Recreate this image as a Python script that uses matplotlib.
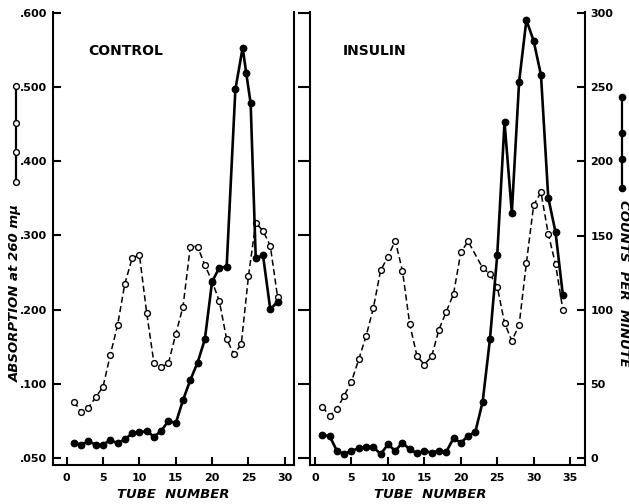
import matplotlib
matplotlib.use("Agg")
import matplotlib.pyplot as plt  # noqa: E402
from matplotlib.lines import Line2D  # noqa: E402

# absorption axis: tick positions and the labels printed on them (lowest tick reads .050)
abs_ticks = [0.0, 0.1, 0.2, 0.3, 0.4, 0.5, 0.6]
abs_labels = [".050", ".100", ".200", ".300", ".400", ".500", ".600"]
cpm_ticks = [0, 50, 100, 150, 200, 250, 300]

# CONTROL panel
ctl_abs_tube = list(range(1, 30))
ctl_abs = [0.076, 0.062, 0.068, 0.082, 0.096, 0.139, 0.179, 0.235, 0.269, 0.274,
           0.196, 0.128, 0.122, 0.128, 0.167, 0.204, 0.285, 0.285, 0.260, 0.238,
           0.211, 0.160, 0.140, 0.153, 0.245, 0.317, 0.306, 0.286, 0.217]
ctl_cpm_tube = list(range(1, 23)) + [23.2, 24.2, 24.7, 25.3, 26, 27, 28, 29]
ctl_cpm = [10.3, 9.0, 11.2, 9.0, 9.0, 12.1, 9.9, 12.6, 16.6, 17.3,
           18.2, 14.4, 18.2, 25.2, 23.4, 39.1, 52.6, 64.3, 80.0, 119.0,
           128.3, 129.0, 248.6, 276.6, 259.3, 239.1, 134.6, 136.6, 100.2, 105.4]

# INSULIN panel
ins_abs_tube = list(range(1, 22)) + list(range(23, 35))
ins_abs = [0.069, 0.057, 0.066, 0.084, 0.103, 0.133, 0.164, 0.202, 0.253, 0.271,
           0.293, 0.252, 0.180, 0.137, 0.126, 0.137, 0.173, 0.197, 0.221, 0.277,
           0.292, 0.256, 0.248, 0.231, 0.182, 0.158, 0.179, 0.263, 0.341, 0.358,
           0.302, 0.261, 0.200]
ins_cpm_tube = list(range(1, 35))
ins_cpm = [15.5, 14.8, 4.9, 2.7, 4.9, 6.5, 7.6, 7.6, 2.5, 9.2,
           4.9, 10.3, 5.8, 3.1, 4.9, 3.6, 4.9, 4.2, 13.3, 10.3,
           14.8, 17.7, 38.0, 80.2, 136.9, 226.3, 165.4, 253.7, 295.3, 281.1,
           258.2, 175.5, 152.2, 109.9]

W, H = 629, 504
LW_SPINE = 1.5
TXT = dict(fontweight="bold", color="black")


def px(x, y):
    return x / W, 1 - y / H


def style_open(ax, x, y):
    ax.plot(x, y, color="black", lw=1.1, ls=(0, (4, 2.2)), marker="o", ms=4.2,
            mfc="white", mec="black", mew=1.0, zorder=3)


def style_filled(ax, x, y):
    ax.plot(x, y, color="black", lw=1.9, marker="o", ms=4.6, mfc="black",
            mec="black", zorder=4)


fig = plt.figure(figsize=(W / 100, H / 100), dpi=100)
bottom, height = 39 / H, (465 - 12) / H
abs_lim = (-0.0094, 0.601)
cpm_lim = (-4.7, 300.7)

# ---- left panel (CONTROL)
axL = fig.add_axes([53 / W, bottom, (294 - 53) / W, height])
axLc = axL.twinx()
axL.set_xlim(-1.88, 31.26)
axL.set_ylim(*abs_lim)
axLc.set_ylim(*cpm_lim)
style_open(axL, ctl_abs_tube, ctl_abs)
style_filled(axLc, ctl_cpm_tube, ctl_cpm)
axL.set_yticks(abs_ticks, abs_labels)
axL.set_xticks(range(0, 31, 5))
axL.spines["top"].set_visible(False)
for s in ("left", "bottom", "right"):
    axL.spines[s].set_linewidth(LW_SPINE)
axL.tick_params(axis="both", direction="in", length=6, width=LW_SPINE,
                labelsize=8, pad=4)
axL.tick_params(axis="x", pad=6)
axLc.axis("off")

# ---- right panel (INSULIN)
axR = fig.add_axes([310 / W, bottom, (585 - 310) / W, height])
axRc = axR.twinx()
axR.set_xlim(-0.69, 37.04)
axR.set_ylim(*abs_lim)
axRc.set_ylim(*cpm_lim)
style_open(axR, ins_abs_tube, ins_abs)
style_filled(axRc, ins_cpm_tube, ins_cpm)
axR.set_yticks(abs_ticks, [])
axR.set_xticks(range(0, 36, 5))
axR.spines["top"].set_visible(False)
axR.spines["right"].set_visible(False)
for s in ("left", "bottom"):
    axR.spines[s].set_linewidth(LW_SPINE)
axR.tick_params(axis="y", direction="out", length=9, width=LW_SPINE)
axR.tick_params(axis="x", direction="in", length=6, width=LW_SPINE,
                labelsize=8, pad=6)
for s in ("top", "left", "bottom"):
    axRc.spines[s].set_visible(False)
axRc.spines["right"].set_linewidth(LW_SPINE)
axRc.set_yticks(cpm_ticks)
axRc.tick_params(axis="y", direction="in", length=6, width=LW_SPINE,
                 labelsize=8, pad=4)

for a in (axL, axR, axRc):
    for lab in a.get_xticklabels() + a.get_yticklabels():
        lab.set_fontweight("bold")

# ---- texts
fig.text(*px(88, 51), "CONTROL", fontsize=10, ha="left", va="center", **TXT)
fig.text(*px(343, 51), "INSULIN", fontsize=10, ha="left", va="center", **TXT)
fig.text(*px(173, 494), "TUBE  NUMBER", fontsize=9.5, style="italic",
         ha="center", va="center", **TXT)
fig.text(*px(430, 494), "TUBE  NUMBER", fontsize=9.5, style="italic",
         ha="center", va="center", **TXT)
fig.text(*px(15, 293), "ABSORPTION at 260 m\u03bc", fontsize=9.5, style="italic",
         rotation=90, ha="center", va="center", **TXT)
fig.text(*px(623, 283), "COUNTS  PER  MINUTE", fontsize=9.5, style="italic",
         rotation=-90, ha="center", va="center", **TXT)

# ---- key symbols beside the axes
for ys, filled, xk in (([86, 123, 152, 182], False, 16), ([97, 133, 159, 188], True, 622)):
    pts = [px(xk, y) for y in ys]
    fig.add_artist(Line2D([p[0] for p in pts], [p[1] for p in pts],
                          transform=fig.transFigure, color="black", lw=1.6,
                          marker="o", ms=4.5 if filled else 4.2,
                          mfc="black" if filled else "white", mec="black", mew=1.0))

fig.savefig("out.png", dpi=100)
